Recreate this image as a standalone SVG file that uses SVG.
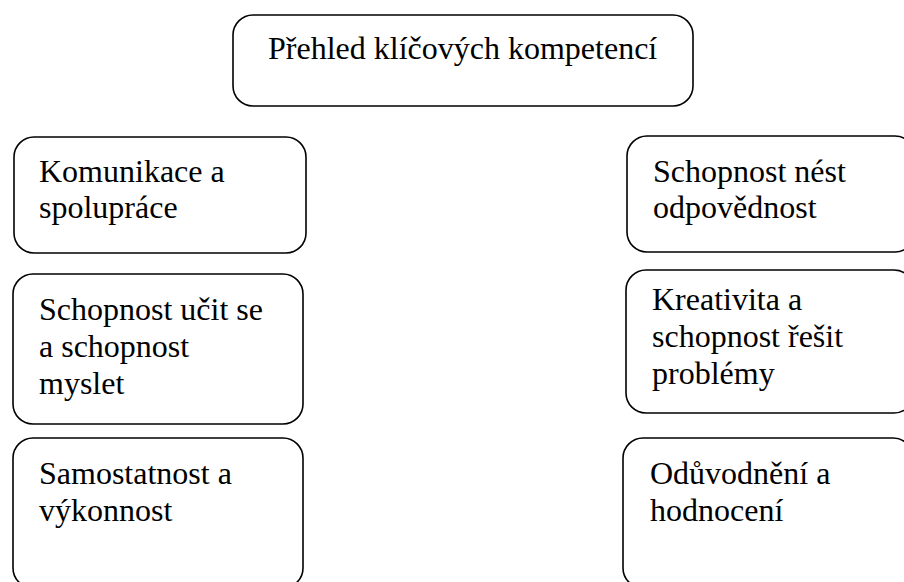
<svg xmlns="http://www.w3.org/2000/svg" width="904" height="582" viewBox="0 0 904 582">
<style>
.box{fill:#fff;stroke:#000;stroke-width:1.6}
.t{font-family:"Liberation Serif","Times New Roman",serif;font-size:32px;fill:#000}
</style>
<rect width="904" height="582" fill="#fff"/>
<g id="title">
<rect class="box" x="233" y="15" width="460" height="91" rx="20"/>
<text class="t" x="268" y="59">Přehled klíčových kompetencí</text>
</g>
<g id="komunikace">
<rect class="box" x="14" y="137" width="292" height="116" rx="20"/>
<text class="t" x="39" y="182">Komunikace a</text>
<text class="t" x="39" y="218">spolupráce</text>
</g>
<g id="uceni">
<rect class="box" x="13" y="274" width="290" height="150" rx="20"/>
<text class="t" x="39" y="320">Schopnost učit se</text>
<text class="t" x="39" y="357">a schopnost</text>
<text class="t" x="39" y="394">myslet</text>
</g>
<g id="samostatnost">
<rect class="box" x="13" y="438" width="290" height="150" rx="20"/>
<text class="t" x="39" y="484">Samostatnost a</text>
<text class="t" x="39" y="521">výkonnost</text>
</g>
<g id="odpovednost">
<rect class="box" x="627" y="136" width="288" height="116" rx="20"/>
<text class="t" x="653" y="182">Schopnost nést</text>
<text class="t" x="653" y="218">odpovědnost</text>
</g>
<g id="kreativita">
<rect class="box" x="626" y="270" width="288" height="143" rx="20"/>
<text class="t" x="652" y="310">Kreativita a</text>
<text class="t" x="652" y="347">schopnost řešit</text>
<text class="t" x="652" y="384">problémy</text>
</g>
<g id="oduvodneni">
<rect class="box" x="623" y="438" width="290" height="150" rx="20"/>
<text class="t" x="650" y="484">Odůvodnění a</text>
<text class="t" x="650" y="521">hodnocení</text>
</g>
</svg>
